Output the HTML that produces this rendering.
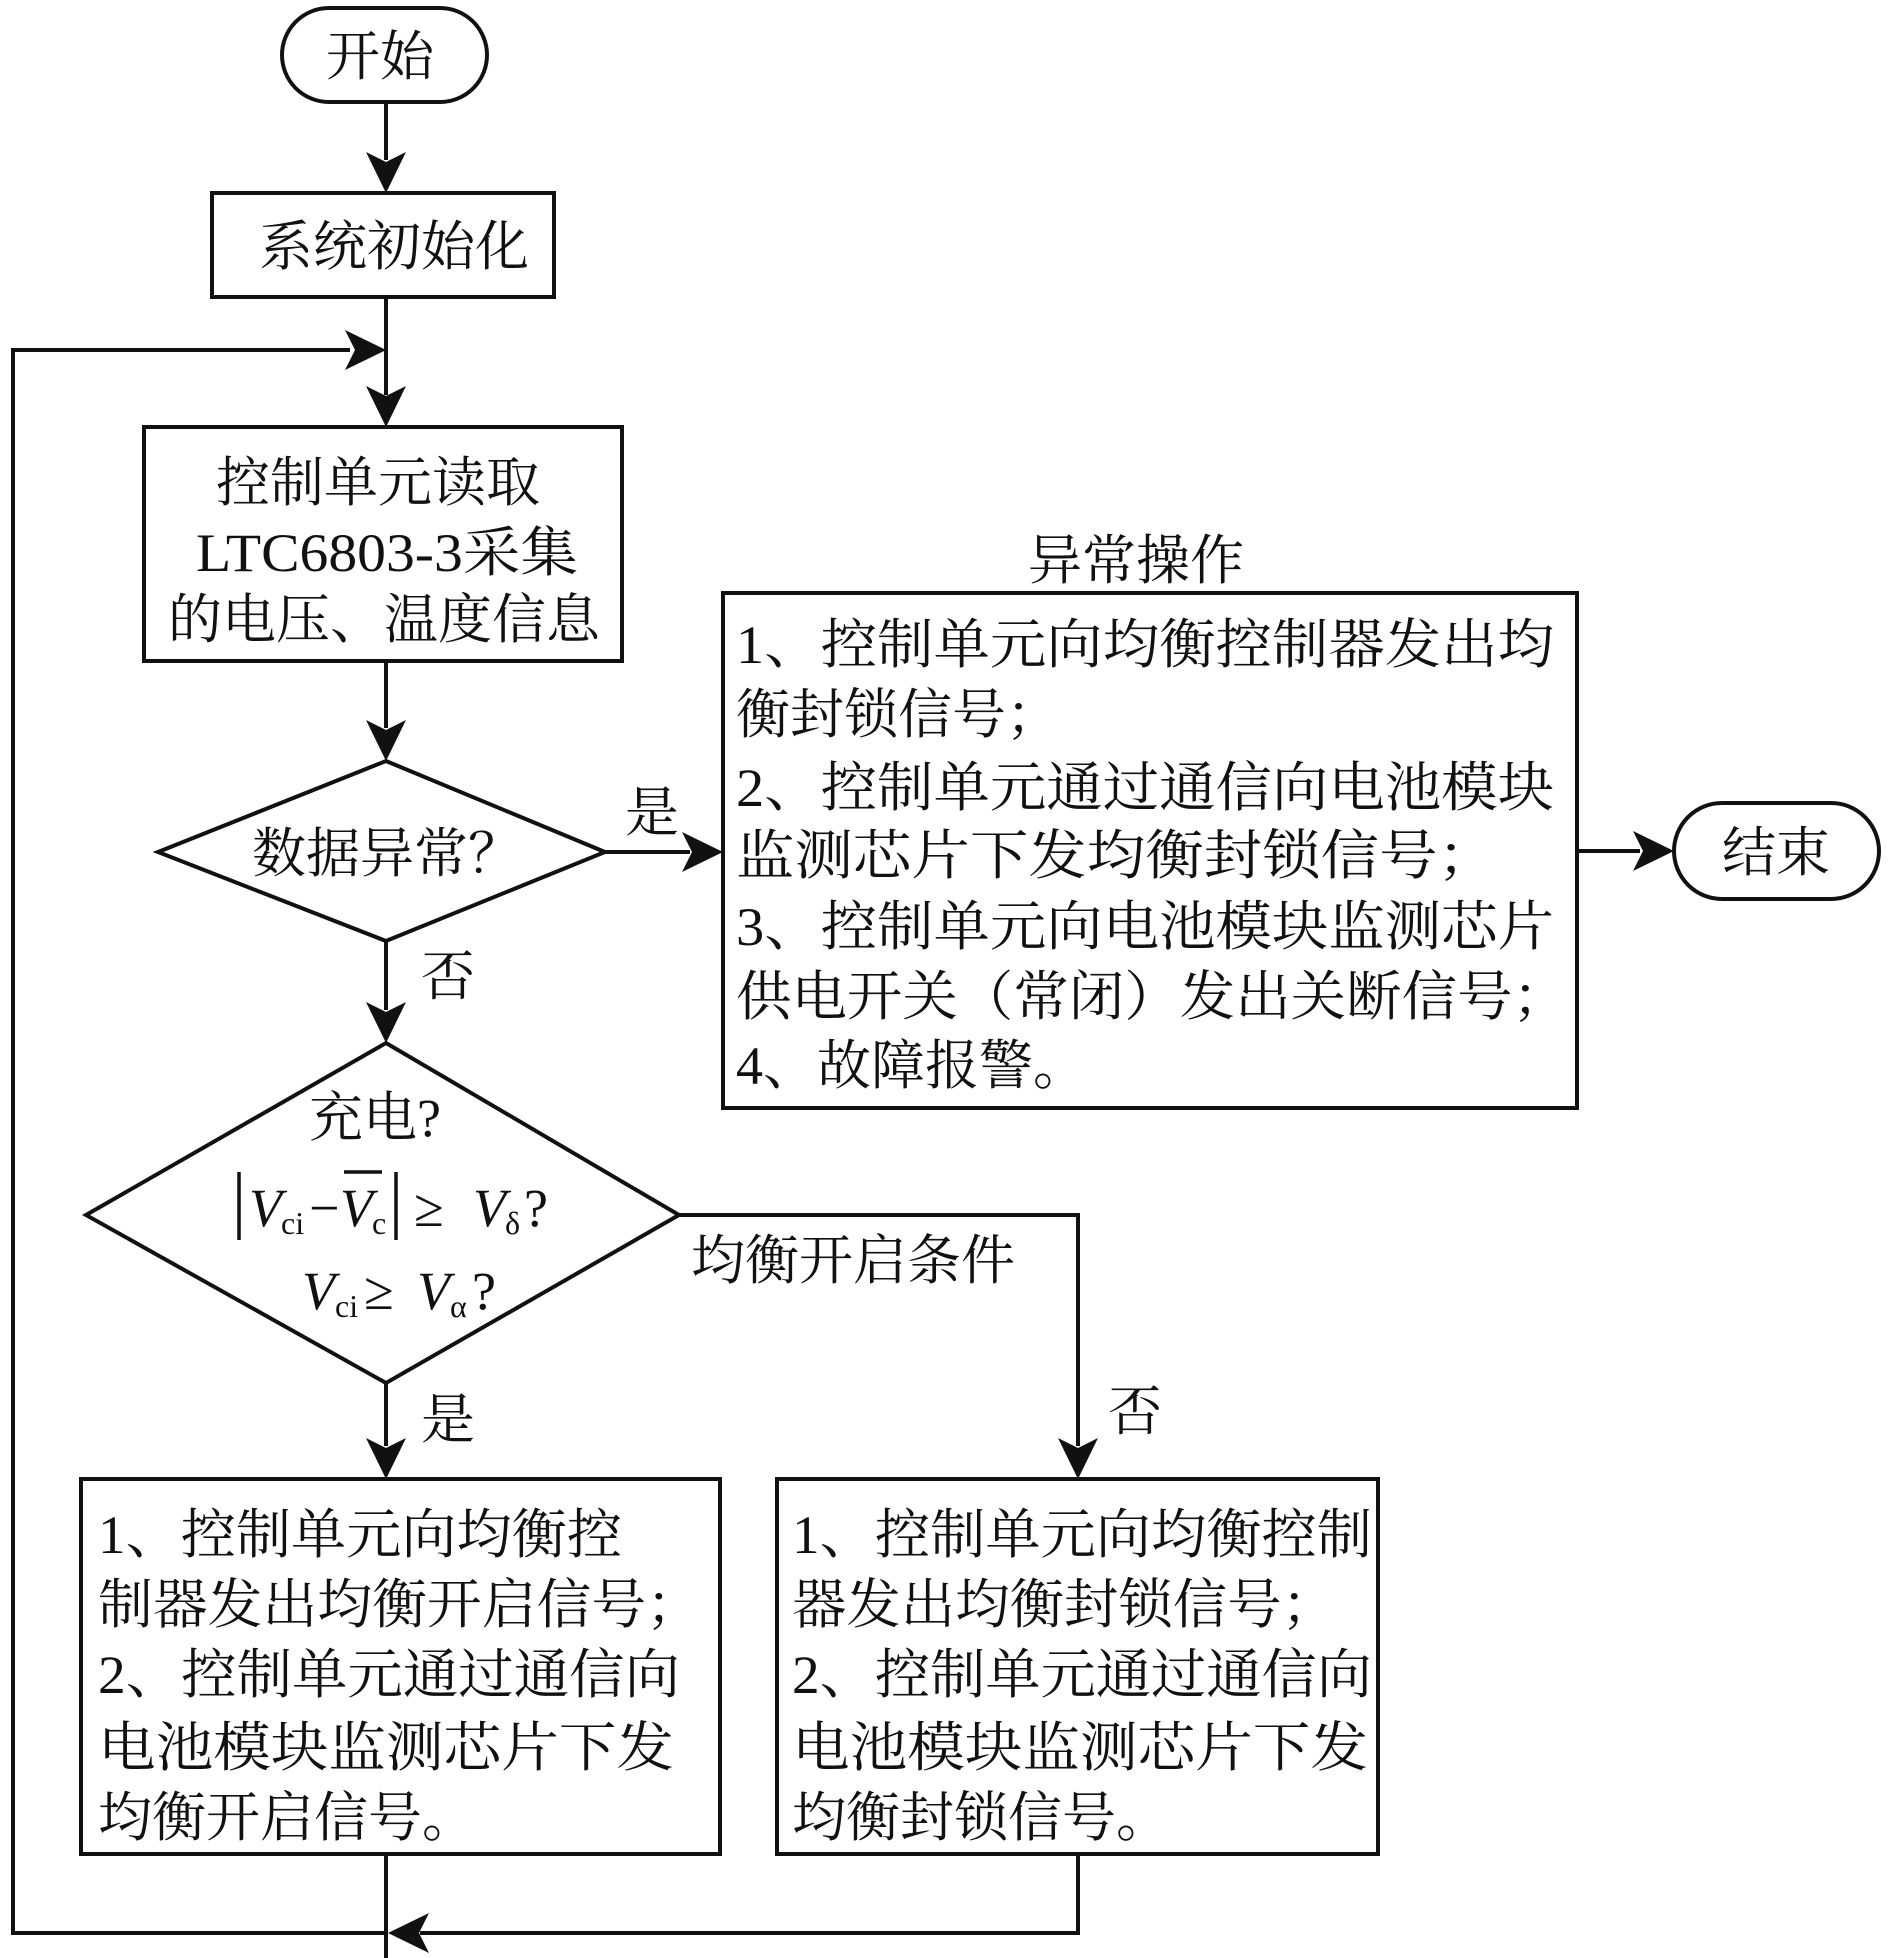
<!DOCTYPE html>
<html><head><meta charset="utf-8"><style>
html,body{margin:0;padding:0;background:#fff;}
svg{display:block;}
text{font-family:"Liberation Serif","Noto Serif CJK SC",serif;fill:#111;}
</style></head><body>
<svg width="1890" height="1958" viewBox="0 0 1890 1958" xmlns="http://www.w3.org/2000/svg">
<defs>
<marker id="a" markerWidth="12" markerHeight="12" refX="11" refY="6" orient="auto" markerUnits="userSpaceOnUse" viewBox="0 0 12 12">
</marker>
</defs>
<g stroke="#111" stroke-width="4" fill="none">
<!-- start terminal -->
<rect x="282" y="8" width="205" height="94" rx="47" ry="47"/>
<!-- init box -->
<rect x="212" y="193" width="342" height="104"/>
<!-- box2 -->
<rect x="144" y="427" width="478" height="234"/>
<!-- diamond1 -->
<polygon points="386,761 605,852 386,941 158,852"/>
<!-- diamond2 -->
<polygon points="386,1043 679,1215 386,1383 86,1215"/>
<!-- big box -->
<rect x="723" y="593" width="854" height="515"/>
<!-- end terminal -->
<rect x="1674" y="803" width="205" height="96" rx="48" ry="48"/>
<!-- lower boxes -->
<rect x="81" y="1479" width="639" height="375"/>
<rect x="777" y="1479" width="601" height="375"/>
<!-- connectors -->
<line x1="386" y1="102" x2="386" y2="160"/>
<line x1="386" y1="297" x2="386" y2="395"/>
<polyline points="386,1933 13,1933 13,350 350,350"/>
<line x1="386" y1="661" x2="386" y2="728"/>
<line x1="386" y1="941" x2="386" y2="1010"/>
<line x1="605" y1="852" x2="690" y2="852"/>
<line x1="1577" y1="851" x2="1640" y2="851"/>
<polyline points="679,1215 1078,1215 1078,1446"/>
<line x1="386" y1="1383" x2="386" y2="1446"/>
<line x1="386" y1="1854" x2="386" y2="1958"/>
<polyline points="1078,1854 1078,1933 420,1933"/>
</g>
<g fill="#111">
<polygon points="386,193 366,152 386,162 406,152"/>
<polygon points="386,427 366,386 386,396 406,386"/>
<polygon points="386,350 345,330 355,350 345,370"/>
<polygon points="386,761 366,720 386,730 406,720"/>
<polygon points="386,1043 366,1002 386,1012 406,1002"/>
<polygon points="723,852 682,832 692,852 682,872"/>
<polygon points="1674,851 1633,831 1643,851 1633,871"/>
<polygon points="1078,1479 1058,1438 1078,1448 1098,1438"/>
<polygon points="386,1479 366,1438 386,1448 406,1438"/>
<polygon points="388,1933 429,1913 419,1933 429,1953"/>
</g>
<g font-size="54">
<text x="326" y="75">开始</text>
<text x="259" y="265">系统初始化</text>
<text x="216" y="501">控制单元读取</text>
<text x="196" y="571" textLength="382" lengthAdjust="spacingAndGlyphs">LTC6803-3采集</text>
<text x="168" y="638">的电压、温度信息</text>
<text x="252" y="872">数据异常？</text>
<text x="625" y="831">是</text>
<text x="421" y="995">否</text>
<text x="1028" y="579">异常操作</text>
<text x="736" y="663" textLength="818" lengthAdjust="spacingAndGlyphs">1、控制单元向均衡控制器发出均</text>
<text x="736" y="733">衡封锁信号；</text>
<text x="736" y="806" textLength="818" lengthAdjust="spacingAndGlyphs">2、控制单元通过通信向电池模块</text>
<text x="736" y="874" textLength="760" lengthAdjust="spacingAndGlyphs">监测芯片下发均衡封锁信号；</text>
<text x="736" y="945" textLength="818" lengthAdjust="spacingAndGlyphs">3、控制单元向电池模块监测芯片</text>
<text x="736" y="1015" textLength="832" lengthAdjust="spacingAndGlyphs">供电开关（常闭）发出关断信号；</text>
<text x="736" y="1084">4、故障报警。</text>
<text x="1722" y="871">结束</text>
<text x="309" y="1136">充电?</text>
<text x="691" y="1279">均衡开启条件</text>
<text x="421" y="1438">是</text>
<text x="1108" y="1430">否</text>
<text x="98" y="1553" textLength="524" lengthAdjust="spacingAndGlyphs">1、控制单元向均衡控</text>
<text x="98" y="1623" textLength="603" lengthAdjust="spacingAndGlyphs">制器发出均衡开启信号；</text>
<text x="98" y="1693" textLength="582" lengthAdjust="spacingAndGlyphs">2、控制单元通过通信向</text>
<text x="98" y="1766" textLength="576" lengthAdjust="spacingAndGlyphs">电池模块监测芯片下发</text>
<text x="98" y="1836">均衡开启信号。</text>
<text x="792" y="1553" textLength="580" lengthAdjust="spacingAndGlyphs">1、控制单元向均衡控制</text>
<text x="792" y="1623" textLength="544" lengthAdjust="spacingAndGlyphs">器发出均衡封锁信号；</text>
<text x="792" y="1693" textLength="580" lengthAdjust="spacingAndGlyphs">2、控制单元通过通信向</text>
<text x="792" y="1766" textLength="576" lengthAdjust="spacingAndGlyphs">电池模块监测芯片下发</text>
<text x="792" y="1836">均衡封锁信号。</text>
</g>
<!-- math -->
<g stroke="#111" stroke-width="3.5">
<line x1="239" y1="1172" x2="239" y2="1240"/>
<line x1="396" y1="1172" x2="396" y2="1240"/>
<line x1="344" y1="1172" x2="382" y2="1172"/>
</g>
<text font-size="54" y="1226"><tspan x="249" font-style="italic">V</tspan><tspan x="281" font-size="32" dy="8">ci</tspan><tspan x="309" dy="-8">−</tspan><tspan x="340" font-style="italic">V</tspan><tspan x="372" font-size="32" dy="8">c</tspan><tspan x="414" dy="-8">≥</tspan><tspan x="473" font-style="italic">V</tspan><tspan x="505" font-size="32" dy="8">δ</tspan><tspan x="524" dy="-8">?</tspan></text>
<text font-size="54" y="1309"><tspan x="302" font-style="italic">V</tspan><tspan x="335" font-size="32" dy="8">ci</tspan><tspan x="364" dy="-8">≥</tspan><tspan x="417" font-style="italic">V</tspan><tspan x="450" font-size="32" dy="8">α</tspan><tspan x="472" dy="-8">?</tspan></text>
</svg>
</body></html>
